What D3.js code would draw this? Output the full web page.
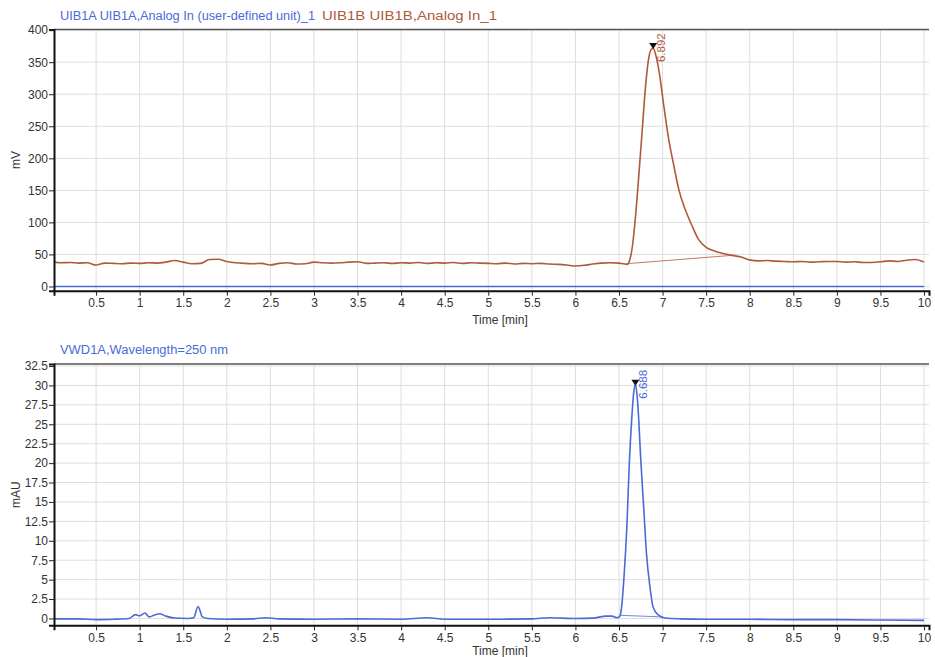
<!DOCTYPE html>
<html>
<head>
<meta charset="utf-8">
<script src="https://cdn.jsdelivr.net/npm/d3@7"></script>
<style>
  body { margin: 0; background: #fff; }
  text { font-family: "Liberation Sans", Arial, sans-serif; }
</style>
</head>
<body>
<div class="chart-container"></div>
<script>
// UIB1B analog trace (mV)
const uibTime = [
  0.02, 0.1, 0.2, 0.3, 0.4, 0.5, 0.6, 0.7, 0.8, 0.9,
  1.0, 1.1, 1.2, 1.3, 1.4, 1.5, 1.6, 1.7, 1.8, 1.9,
  2.0, 2.1, 2.2, 2.3, 2.4, 2.5, 2.6, 2.7, 2.8, 2.9,
  3.0, 3.1, 3.2, 3.3, 3.4, 3.5, 3.6, 3.7, 3.8, 3.9,
  4.0, 4.1, 4.2, 4.3, 4.4, 4.5, 4.6, 4.7, 4.8, 4.9,
  5.0, 5.1, 5.2, 5.3, 5.4, 5.5, 5.6, 5.7, 5.8, 5.9,
  6.0, 6.1, 6.2, 6.3, 6.4, 6.5, 6.55, 6.6, 6.62, 6.653,
  6.69, 6.73, 6.767, 6.805, 6.843, 6.87, 6.892, 6.92, 6.957, 7.014,
  7.07, 7.13, 7.185, 7.26, 7.34, 7.41, 7.5, 7.6, 7.71, 7.82,
  7.9, 8.0, 8.1, 8.2, 8.3, 8.4, 8.5, 8.6, 8.7, 8.8,
  8.9, 9.0, 9.1, 9.2, 9.3, 9.4, 9.5, 9.6, 9.7, 9.8,
  9.9, 10.0
];
const uibMv = [
  38, 37, 37.5, 36.5, 37, 33.5, 36.5, 36, 35.5, 36.5,
  36, 37, 36.5, 38, 40.5, 38, 35.5, 36, 42, 42.5,
  39, 37, 36, 35.5, 36, 33.5, 36, 37, 35, 35.5,
  38, 37, 36.5, 37, 38, 38.5, 36, 36.5, 37, 36,
  37, 36.5, 37.5, 36, 37, 36.5, 37.5, 36, 37, 36.5,
  36, 35.5, 36.5, 35, 36, 35.5, 36, 35, 34.5, 33.5,
  32, 33, 35, 36.5, 37, 36.5, 35.5, 34.5, 40, 62,
  110, 178, 245, 313, 358, 370, 372, 362, 338, 282,
  230, 188, 152, 120, 94, 74, 61, 55, 51, 48,
  46, 41.5, 40, 40.5, 39.5, 39, 38.5, 39, 38, 38.5,
  39, 39, 38, 38.5, 37.5, 37.5, 38.5, 40, 39, 41,
  42, 38
];
// UIB1A analog trace, flat at zero
const uibATime = [0.02, 10.0];
const uibAMv = [0, 0];

// VWD1A 250 nm trace (mAU)
const vwdTime = [
  0.02, 0.3, 0.5, 0.7, 0.88, 0.95, 1.0, 1.06, 1.11, 1.17,
  1.23, 1.3, 1.4, 1.55, 1.62, 1.67, 1.72, 1.78, 2.0, 2.3,
  2.45, 2.6, 3.0, 3.5, 4.0, 4.3, 4.5, 5.0, 5.5, 5.7,
  6.0, 6.2, 6.35, 6.42, 6.48, 6.51, 6.53, 6.56, 6.59, 6.62,
  6.645, 6.668, 6.688, 6.705, 6.72, 6.75, 6.785, 6.815, 6.855, 6.89,
  6.95, 7.03, 7.2, 7.5, 8.0, 8.5, 9.0, 9.5, 10.0
];
const vwdMau = [
  -0.05, -0.05, -0.15, -0.1, 0.0, 0.5, 0.35, 0.7, 0.2, 0.45,
  0.6, 0.3, 0.05, 0.0, 0.1, 1.55, 0.2, 0.0, -0.1, -0.05,
  0.1, -0.05, -0.1, -0.05, -0.1, 0.1, -0.1, -0.1, -0.05, 0.1,
  0.0, 0.05, 0.3, 0.3, 0.1, 0.3, 1.5, 5.8, 11.8, 20.4,
  25.5, 29, 30.1, 29, 26.8, 20.4, 14, 8.4, 4.1, 1.5,
  0.45, 0.05, -0.05, -0.1, -0.1, -0.15, -0.15, -0.2, -0.25
];

// integration baselines: [start time, start value, end time, end value]
const uibBaseline = [6.58, 35.5, 7.84, 49];
const vwdBaseline = [6.52, 0.4, 7.0, 0.2];

// peaks: retention time, apex value
const uibPeak = { time: 6.892, value: 372, label: "6.892" };
const vwdPeak = { time: 6.688, value: 30.1, label: "6.688" };

const xTicks = [0.5, 1, 1.5, 2, 2.5, 3, 3.5, 4, 4.5, 5, 5.5, 6, 6.5, 7, 7.5, 8, 8.5, 9, 9.5, 10];
const mvTicks = [0, 50, 100, 150, 200, 250, 300, 350, 400];
const mauTicks = [0, 2.5, 5, 7.5, 10, 12.5, 15, 17.5, 20, 22.5, 25, 27.5, 30, 32.5];

const width = 935;
const height = 657;
const blue = "#4a6bd6";
const brown = "#b0593b";
const grid = "#dedede";

const svg = d3
  .select(".chart-container")
  .append("svg")
  .attr("width", width)
  .attr("height", height);

const zip = (xs, ys) => xs.map((x, i) => [x, ys[i]]);

const drawPanel = (opts) => {
  const x = d3.scaleLinear().domain([0.017, 10.057]).range([54, 929]);
  const y = d3.scaleLinear().domain(opts.yDomain).range([opts.bottom, opts.top]);

  const g = svg.append("g");

  // grid
  g.selectAll("line.vgrid")
    .data(xTicks)
    .enter()
    .append("line")
    .attr("x1", (d) => x(d))
    .attr("x2", (d) => x(d))
    .attr("y1", opts.top)
    .attr("y2", opts.bottom)
    .attr("stroke", grid);

  g.selectAll("line.hgrid")
    .data(opts.yTicks)
    .enter()
    .append("line")
    .attr("x1", 54)
    .attr("x2", 929)
    .attr("y1", (d) => y(d))
    .attr("y2", (d) => y(d))
    .attr("stroke", grid);

  // top frame
  g.append("line")
    .attr("x1", 54)
    .attr("x2", 929)
    .attr("y1", opts.top)
    .attr("y2", opts.top)
    .attr("stroke", "#555")
    .attr("stroke-width", 1.5);

  const line = d3
    .line()
    .x((d) => x(d[0]))
    .y((d) => y(d[1]))
    .curve(d3.curveMonotoneX);

  opts.series.forEach((s) => {
    g.append("path")
      .datum(zip(s.t, s.v))
      .attr("fill", "none")
      .attr("stroke", s.color)
      .attr("stroke-width", 1.6)
      .attr("d", line);
  });

  const b = opts.baseline;
  g.append("line")
    .attr("x1", x(b[0]))
    .attr("y1", y(b[1]))
    .attr("x2", x(b[2]))
    .attr("y2", y(b[3]))
    .attr("stroke", opts.peakColor)
    .attr("stroke-width", 0.8);

  // peak marker and label
  const px = x(opts.peak.time);
  const py = y(opts.peak.value);
  g.append("path")
    .attr("d", `M${px - 4},${py - 5}L${px + 4},${py - 5}L${px},${py + 1}Z`)
    .attr("fill", "#111");

  g.append("text")
    .attr("transform", `translate(${px + 12},${py + 14}) rotate(-90)`)
    .attr("font-size", 11.5)
    .attr("fill", opts.peakColor)
    .text(opts.peak.label);

  // axes
  const xAxis = d3
    .axisBottom(x)
    .tickValues(xTicks)
    .tickSize(5)
    .tickPadding(3)
    .tickFormat((d) => String(d));
  const xg = g.append("g").attr("transform", `translate(0,${opts.bottom})`).call(xAxis);
  xg.select(".domain").attr("stroke", "#111").attr("stroke-width", 2);

  const yAxis = d3
    .axisLeft(y)
    .tickValues(opts.yTicks)
    .tickSize(5)
    .tickPadding(1)
    .tickFormat((d) => String(d));
  const yg = g.append("g").attr("transform", "translate(54,0)").call(yAxis);
  yg.select(".domain").attr("stroke", "#111").attr("stroke-width", 2);

  [xg, yg].forEach((a) => {
    a.selectAll(".tick line").attr("stroke", "#222");
    a.selectAll(".tick text")
      .attr("fill", "#333")
      .style("font-family", '"Liberation Sans", Arial, sans-serif')
      .attr("font-size", 12);
  });

  g.append("text")
    .attr("x", 500)
    .attr("y", opts.bottom + opts.timeOffset)
    .attr("text-anchor", "middle")
    .attr("font-size", 12)
    .attr("fill", "#333")
    .text("Time [min]");

  g.append("text")
    .attr("transform", `translate(20,${(opts.top + opts.bottom) / 2}) rotate(-90)`)
    .attr("text-anchor", "middle")
    .attr("font-size", 12)
    .attr("fill", "#333")
    .text(opts.yLabel);

  const title = g.append("text").attr("y", opts.top - 10).attr("font-size", 12.5);
  opts.titles.forEach((t) => {
    title
      .append("tspan")
      .attr("x", t.x)
      .attr("fill", t.color)
      .attr("textLength", t.len)
      .attr("lengthAdjust", "spacingAndGlyphs")
      .text(t.text);
  });
};

drawPanel({
  top: 29.5,
  bottom: 290.7,
  yDomain: [-6.6, 401],
  yTicks: mvTicks,
  yLabel: "mV",
  timeOffset: 33,
  series: [
    { t: uibATime, v: uibAMv, color: blue },
    { t: uibTime, v: uibMv, color: brown },
  ],
  baseline: uibBaseline,
  peak: uibPeak,
  peakColor: brown,
  titles: [
    { text: "UIB1A UIB1A,Analog In (user-defined unit)_1", color: blue, x: 60, len: 255 },
    { text: "UIB1B UIB1B,Analog In_1", color: brown, x: 322, len: 175 },
  ],
});

drawPanel({
  top: 364,
  bottom: 625.3,
  yDomain: [-0.88, 32.76],
  yTicks: mauTicks,
  yLabel: "mAU",
  timeOffset: 29.5,
  series: [{ t: vwdTime, v: vwdMau, color: blue }],
  baseline: vwdBaseline,
  peak: vwdPeak,
  peakColor: blue,
  titles: [{ text: "VWD1A,Wavelength=250 nm", color: blue, x: 60, len: 168 }],
});
</script>
</body>
</html>
